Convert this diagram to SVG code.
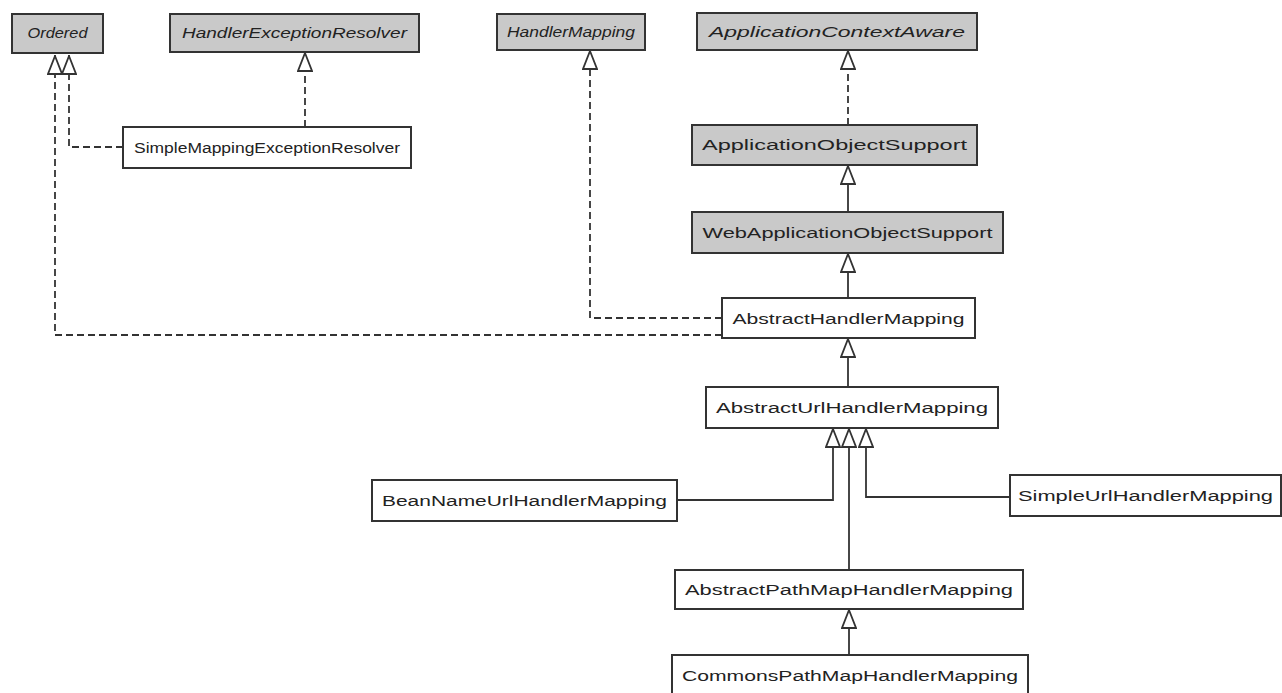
<svg xmlns="http://www.w3.org/2000/svg" width="1282" height="693" viewBox="0 0 1282 693">
<defs>
<marker id="tri" viewBox="0 0 16 20" refX="8" refY="0" markerWidth="16" markerHeight="20" markerUnits="userSpaceOnUse" orient="0">
<path d="M8,1 L15,19 L1,19 Z" fill="#fff" stroke="#333" stroke-width="1.8"/>
</marker>
<style>
.box{fill:#fff;stroke:#333;stroke-width:2}
.ibox{fill:#c9c9c9;stroke:#333;stroke-width:2}
.t{font-family:"Liberation Sans",Arial,sans-serif;font-size:14px;fill:#222;text-anchor:middle}
.it{font-style:italic}
.c{fill:none;stroke:#333;stroke-width:1.8}
.d{stroke-dasharray:7,4}
</style>
</defs>
<rect width="1282" height="693" fill="#fff"/>
<g id="connectors">
<path class="c d" d="M722,335 H55 V55" marker-end="url(#tri)"/>
<path class="c d" d="M123,147 H69 V55" marker-end="url(#tri)"/>
<path class="c d" d="M305,127 V52" marker-end="url(#tri)"/>
<path class="c d" d="M722,318 H590 V50" marker-end="url(#tri)"/>
<path class="c d" d="M848,125 V50" marker-end="url(#tri)"/>
<path class="c" d="M848,212 V165" marker-end="url(#tri)"/>
<path class="c" d="M848,298 V253" marker-end="url(#tri)"/>
<path class="c" d="M848,387 V338" marker-end="url(#tri)"/>
<path class="c" d="M677,500 H833 V428" marker-end="url(#tri)"/>
<path class="c" d="M1010,497 H866 V428" marker-end="url(#tri)"/>
<path class="c" d="M849,570 V428" marker-end="url(#tri)"/>
<path class="c" d="M849,655 V609" marker-end="url(#tri)"/>
</g>
<g id="Ordered"><rect class="ibox" x="12" y="14" width="91" height="39"/><text class="t it" x="57.5" y="38" textLength="60" lengthAdjust="spacingAndGlyphs">Ordered</text></g>
<g id="HandlerExceptionResolver"><rect class="ibox" x="170" y="14" width="249" height="38"/><text class="t it" x="294.5" y="38" textLength="225" lengthAdjust="spacingAndGlyphs">HandlerExceptionResolver</text></g>
<g id="HandlerMapping"><rect class="ibox" x="497" y="14" width="148" height="36"/><text class="t it" x="571" y="37" textLength="128" lengthAdjust="spacingAndGlyphs">HandlerMapping</text></g>
<g id="ApplicationContextAware"><rect class="ibox" x="697" y="13" width="280" height="37"/><text class="t it" x="837" y="37" textLength="256" lengthAdjust="spacingAndGlyphs">ApplicationContextAware</text></g>
<g id="SimpleMappingExceptionResolver"><rect class="box" x="123" y="127" width="288" height="41"/><text class="t" x="267" y="153" textLength="266" lengthAdjust="spacingAndGlyphs">SimpleMappingExceptionResolver</text></g>
<g id="ApplicationObjectSupport"><rect class="ibox" x="692" y="125" width="285" height="40"/><text class="t" x="834.5" y="150" textLength="265" lengthAdjust="spacingAndGlyphs">ApplicationObjectSupport</text></g>
<g id="WebApplicationObjectSupport"><rect class="ibox" x="692" y="212" width="311" height="41"/><text class="t" x="847.5" y="238" textLength="290" lengthAdjust="spacingAndGlyphs">WebApplicationObjectSupport</text></g>
<g id="AbstractHandlerMapping"><rect class="box" x="722" y="298" width="253" height="40"/><text class="t" x="848.5" y="324" textLength="232" lengthAdjust="spacingAndGlyphs">AbstractHandlerMapping</text></g>
<g id="AbstractUrlHandlerMapping"><rect class="box" x="706" y="387" width="292" height="41"/><text class="t" x="852" y="413" textLength="272" lengthAdjust="spacingAndGlyphs">AbstractUrlHandlerMapping</text></g>
<g id="BeanNameUrlHandlerMapping"><rect class="box" x="372" y="480" width="305" height="41"/><text class="t" x="524.5" y="506" textLength="285" lengthAdjust="spacingAndGlyphs">BeanNameUrlHandlerMapping</text></g>
<g id="SimpleUrlHandlerMapping"><rect class="box" x="1010" y="475" width="271" height="41"/><text class="t" x="1145.5" y="501" textLength="255" lengthAdjust="spacingAndGlyphs">SimpleUrlHandlerMapping</text></g>
<g id="AbstractPathMapHandlerMapping"><rect class="box" x="675" y="570" width="348" height="39"/><text class="t" x="849" y="595" textLength="328" lengthAdjust="spacingAndGlyphs">AbstractPathMapHandlerMapping</text></g>
<g id="CommonsPathMapHandlerMapping"><rect class="box" x="672" y="655" width="356" height="40"/><text class="t" x="850" y="681" textLength="336" lengthAdjust="spacingAndGlyphs">CommonsPathMapHandlerMapping</text></g>
</svg>
